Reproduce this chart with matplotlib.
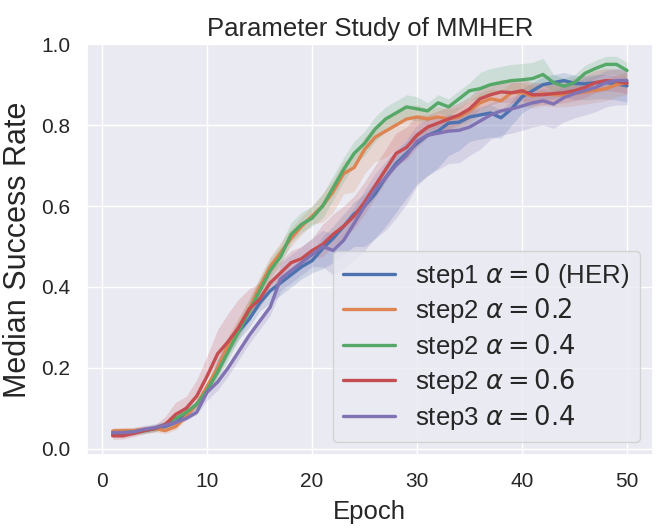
import numpy as np
import matplotlib
matplotlib.use("Agg")
import matplotlib.pyplot as plt
import seaborn as sns

epochs = list(range(1, 51))

labels = [r"step1 $\alpha = 0$ (HER)", r"step2 $\alpha = 0.2$", r"step2 $\alpha = 0.4$",
          r"step2 $\alpha = 0.6$", r"step3 $\alpha = 0.4$"]

blue = [.035, .037, .040, .045, .050, .055, .065, .085, .110, .150,
        .200, .250, .290, .320, .360, .390, .410, .430, .450, .465,
        .495, .520, .550, .580, .600, .630, .670, .705, .730, .755,
        .775, .785, .805, .807, .820, .825, .830, .818, .840, .870,
        .885, .900, .905, .910, .903, .902, .905, .905, .902, .897]
orange = [.044, .045, .045, .048, .050, .045, .055, .080, .110, .155,
          .200, .255, .300, .345, .400, .450, .485, .520, .550, .575,
          .600, .635, .680, .695, .740, .770, .785, .800, .815, .820,
          .815, .820, .815, .820, .835, .855, .865, .860, .880, .880,
          .872, .878, .875, .875, .878, .882, .886, .890, .900, .905]
green = [.040, .040, .042, .045, .050, .060, .075, .090, .110, .145,
         .190, .240, .290, .340, .390, .440, .475, .530, .555, .570,
         .600, .645, .690, .730, .755, .790, .815, .830, .845, .840,
         .835, .855, .845, .865, .885, .890, .900, .905, .910, .912,
         .915, .925, .905, .896, .905, .928, .940, .950, .950, .935]
red = [.032, .032, .038, .045, .050, .060, .085, .100, .130, .180,
       .235, .265, .300, .345, .370, .410, .435, .460, .470, .490,
       .505, .530, .550, .575, .610, .650, .690, .730, .745, .775,
       .795, .805, .815, .825, .840, .865, .875, .882, .880, .885,
       .875, .875, .878, .880, .885, .893, .905, .910, .908, .903]
purple = [.040, .040, .042, .048, .052, .058, .065, .075, .090, .140,
          .165, .200, .240, .280, .315, .350, .420, .440, .460, .480,
          .500, .490, .515, .557, .600, .640, .670, .700, .725, .760,
          .775, .780, .785, .787, .795, .810, .825, .835, .840, .847,
          .855, .860, .852, .868, .878, .885, .893, .905, .910, .910]

# band spreads below / above each median line
blue_dn = [.005] * 7 + [.01] * 3 + [.02] * 5 + [.03] * 5 + [.05, .06, .07, .08, .10, .11, .12, .12, .11, .10,
           .10, .09, .08, .07, .06, .06, .06, .05, .04, .04, .04, .04, .04, .04, .04, .04, .04, .04, .04, .04]
blue_up = [.01] * 10 + [.02] * 10 + [.03] * 10 + [.02] * 20
orange_dn = [.008] * 10 + [.02] * 10 + [.04, .05, .05, .06, .06, .06, .065, .06, .05, .05] + [.03] * 20
orange_up = [.008] * 10 + [.025] * 10 + [.03] * 10 + [.025] * 20
green_dn = [.008] * 10 + [.02] * 10 + [.03] * 10 + [.025] * 20
green_up = [.008] * 10 + [.03] * 10 + [.03] * 10 + [.02] * 5 + [.04] * 7 + [.02] * 8
red_dn = [.008] * 10 + [.02] * 10 + [.03] * 10 + [.025] * 20
red_up = [.008] * 5 + [.02, .03, .03, .04, .05, .06, .07, .07, .05, .04] + [.03] * 5 + [.05] * 10 + [.03] * 20
purple_dn = [.005] * 9 + [.02] * 7 + [.03] * 4 + [.05, .06, .07, .09, .11, .12, .13, .13, .12, .11,
             .10, .09, .08, .08, .07, .07, .06, .06, .06, .06] + [.06] * 10
purple_up = [.01] * 16 + [.04] * 8 + [.04] * 11 + [.03] * 15

series = [blue, orange, green, red, purple]
downs = [blue_dn, orange_dn, green_dn, red_dn, purple_dn]
ups = [blue_up, orange_up, green_up, red_up, purple_up]

sns.set_theme(style="darkgrid")
plt.rcParams['font.family'] = ['Liberation Sans', 'DejaVu Sans']
colors = sns.color_palette("deep")

fig = plt.figure(figsize=(6.64, 5.32), dpi=100)
ax = fig.add_axes([0.131, 0.145, 0.852, 0.772])

x = np.array(epochs)
for i, (s, d, u) in enumerate(zip(series, downs, ups)):
    s = np.array(s)
    ax.fill_between(x, s - np.array(d), s + np.array(u), color=colors[i], alpha=0.2, linewidth=0)
    ax.plot(x, s, color=colors[i], lw=2.4, label=labels[i])

ax.set_ylim(-0.015, 1.0)
ax.set_xticks([0, 10, 20, 30, 40, 50])
ax.set_yticks([0.0, 0.2, 0.4, 0.6, 0.8, 1.0])
ax.tick_params(labelsize=15, pad=6)
ax.set_xlabel("Epoch", fontsize=18.5, labelpad=7)
ax.set_ylabel("Median Success Rate", fontsize=22, labelpad=6)
ax.set_title("Parameter Study of MMHER", fontsize=18.5)
leg = ax.legend(loc="lower right", fontsize=18.5, labelspacing=0.25)

fig.savefig("out.png", dpi=100)
